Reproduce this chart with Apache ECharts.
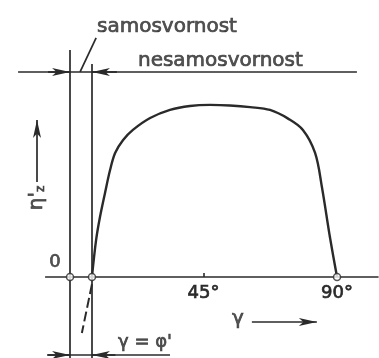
<!DOCTYPE html>
<html>
<head>
<meta charset="utf-8">
<script src="https://cdn.jsdelivr.net/npm/echarts@6/dist/echarts.min.js"></script>
<style>
  html, body { margin: 0; padding: 0; background: #fff; }
  #chart { width: 379px; height: 358px; }
</style>
</head>
<body>
<div id="chart"></div>
<script>
// Slip angle γ (degrees) and efficiency η'z along the characteristic
const gammaDeg = [7.4, 8.8, 10.1, 11.8, 13.5, 15.2, 17.9, 21.2, 27.0, 33.7, 40.4, 47.2, 53.9, 60.7, 67.4, 73.5, 78.5, 82.6, 84.9, 87.6, 90];
const etaZ     = [0, 0.206, 0.333, 0.467, 0.594, 0.689, 0.761, 0.817, 0.883, 0.928, 0.95, 0.956, 0.953, 0.944, 0.928, 0.88, 0.817, 0.689, 0.5, 0.222, 0];

// Friction angle φ' separating the self-locking range
const phiDeg = 7.4;
// Dashed continuation of the curve below zero
const dashGamma = [7.4, 4.0];
const dashEta = [-0.04, -0.311];

// Tick labels on the γ axis
const tickValues = [45, 90];
const markedPoints = [0, phiDeg, 90];

// Text labels
const lblSelfLock = 'samosvornost';
const lblNoLock = 'nesamosvornost';
const lblOrigin = '0';
const lblGamma = 'γ';
const lblGammaPhi = "γ = φ'";

const ink = '#2a2a2a';
const font = 'DejaVu Sans';
const textInk = { color: ink, textBorderColor: ink, textBorderWidth: 0.7 };

// η'z range shown and where the grid ends; the γ axis sits at η'z = 0
const etaMin = -0.45, etaMax = 1.5;
const gridTop = 7, gridHeight = 351;
const zeroOffset = -gridHeight * (0 - etaMin) / (etaMax - etaMin);

const chart = echarts.init(document.getElementById('chart'), null, { renderer: 'canvas' });

const seg = (a, b, endSymbol) => [
  { coord: a, symbol: 'none' },
  { coord: b, symbol: endSymbol || 'none' }
];

const refLines = {
  type: 'line',
  data: [],
  silent: true,
  markLine: {
    silent: true,
    animation: false,
    symbol: ['none', 'none'],
    symbolSize: [6, 18],
    label: { show: false },
    lineStyle: { color: ink, width: 1.7, type: 'solid' },
    emphasis: { disabled: true },
    data: [
      // γ axis
      seg([-8.4, 0], [104, 0]),
      // vertical at γ = 0 and at γ = φ'
      seg([0, 1.261], [0, etaMin]),
      seg([phiDeg, 1.183], [phiDeg, etaMin]),
      // upper dimension line with arrows
      seg([-17.5, 1.139], [96.7, 1.139]),
      seg([-7.4, 1.139], [0, 1.139], 'arrow'),
      seg([15.8, 1.139], [phiDeg, 1.139], 'arrow'),
      // lower dimension line with arrows
      seg([-7.75, -0.433], [33.7, -0.433]),
      seg([-7.4, -0.433], [0, -0.433], 'arrow'),
      seg([15.3, -0.433], [phiDeg, -0.433], 'arrow'),
      // leader to "samosvornost"
      seg([3.4, 1.139], [8.8, 1.328]),
      // η'z direction arrow
      seg([-11.12, 0.528], [-11.12, 0.872], 'arrow'),
      // γ direction arrow
      seg([61.3, -0.25], [83.2, -0.25], 'arrow')
    ]
  }
};

const textPoint = (x, y, text, extra) => ({
  value: [x, y],
  label: Object.assign({
    show: true,
    formatter: text,
    position: 'inside',
    align: 'left',
    verticalAlign: 'middle',
    fontFamily: font,
    fontSize: 20
  }, textInk, extra || {})
});

chart.setOption({
  animation: false,
  backgroundColor: '#fff',
  grid: { left: 10.67, width: 367.9, top: gridTop, height: gridHeight, containLabel: false, outerBoundsMode: 'none' },
  xAxis: {
    type: 'value',
    min: -20,
    max: 104,
    position: 'bottom',
    offset: zeroOffset,
    splitLine: { show: false },
    axisLine: { show: false, onZero: false },
    axisTick: { show: true, inside: true, length: 4, customValues: [45], lineStyle: { color: ink, width: 1.6 } },
    axisLabel: Object.assign({
      show: true,
      customValues: tickValues,
      formatter: '{value}°',
      margin: 7,
      fontFamily: font,
      fontSize: 18
    }, textInk)
  },
  yAxis: {
    type: 'value',
    min: etaMin,
    max: etaMax,
    show: false
  },
  series: [
    refLines,
    {
      type: 'line',
      data: gammaDeg.map((g, i) => [g, etaZ[i]]),
      smooth: 0.35,
      showSymbol: false,
      silent: true,
      lineStyle: { color: ink, width: 2.4 },
      z: 3
    },
    {
      type: 'line',
      data: dashGamma.map((g, i) => [g, dashEta[i]]),
      showSymbol: false,
      silent: true,
      lineStyle: { color: ink, width: 2, type: [10, 4] }
    },
    {
      type: 'scatter',
      data: markedPoints.map(g => [g, 0]),
      symbol: 'circle',
      symbolSize: 7,
      silent: true,
      itemStyle: { color: '#fff', borderColor: ink, borderWidth: 1.5 },
      z: 5
    },
    {
      type: 'scatter',
      symbolSize: 0,
      silent: true,
      data: [
        textPoint(9.1, 1.389, lblSelfLock),
        textPoint(22.9, 1.2, lblNoLock),
        textPoint(-5.06, 0.083, lblOrigin, { align: 'center', fontSize: 18 }),
        textPoint(16.2, -0.361, lblGammaPhi, { fontSize: 18 }),
        textPoint(56.6, -0.23, lblGamma, { align: 'center', fontSize: 20 }),
        {
          value: [-11.12, 0.439],
          label: {
            show: true,
            position: 'inside',
            rotate: 90,
            align: 'center',
            verticalAlign: 'middle',
            fontFamily: font,
            formatter: "{m|η'}{s|z}",
            rich: {
              m: Object.assign({ fontFamily: font, fontSize: 20 }, textInk),
              s: Object.assign({ fontFamily: font, fontSize: 12, verticalAlign: 'bottom', padding: [8, 0, 0, 0] }, textInk)
            }
          }
        }
      ]
    }
  ]
});
</script>
</body>
</html>
